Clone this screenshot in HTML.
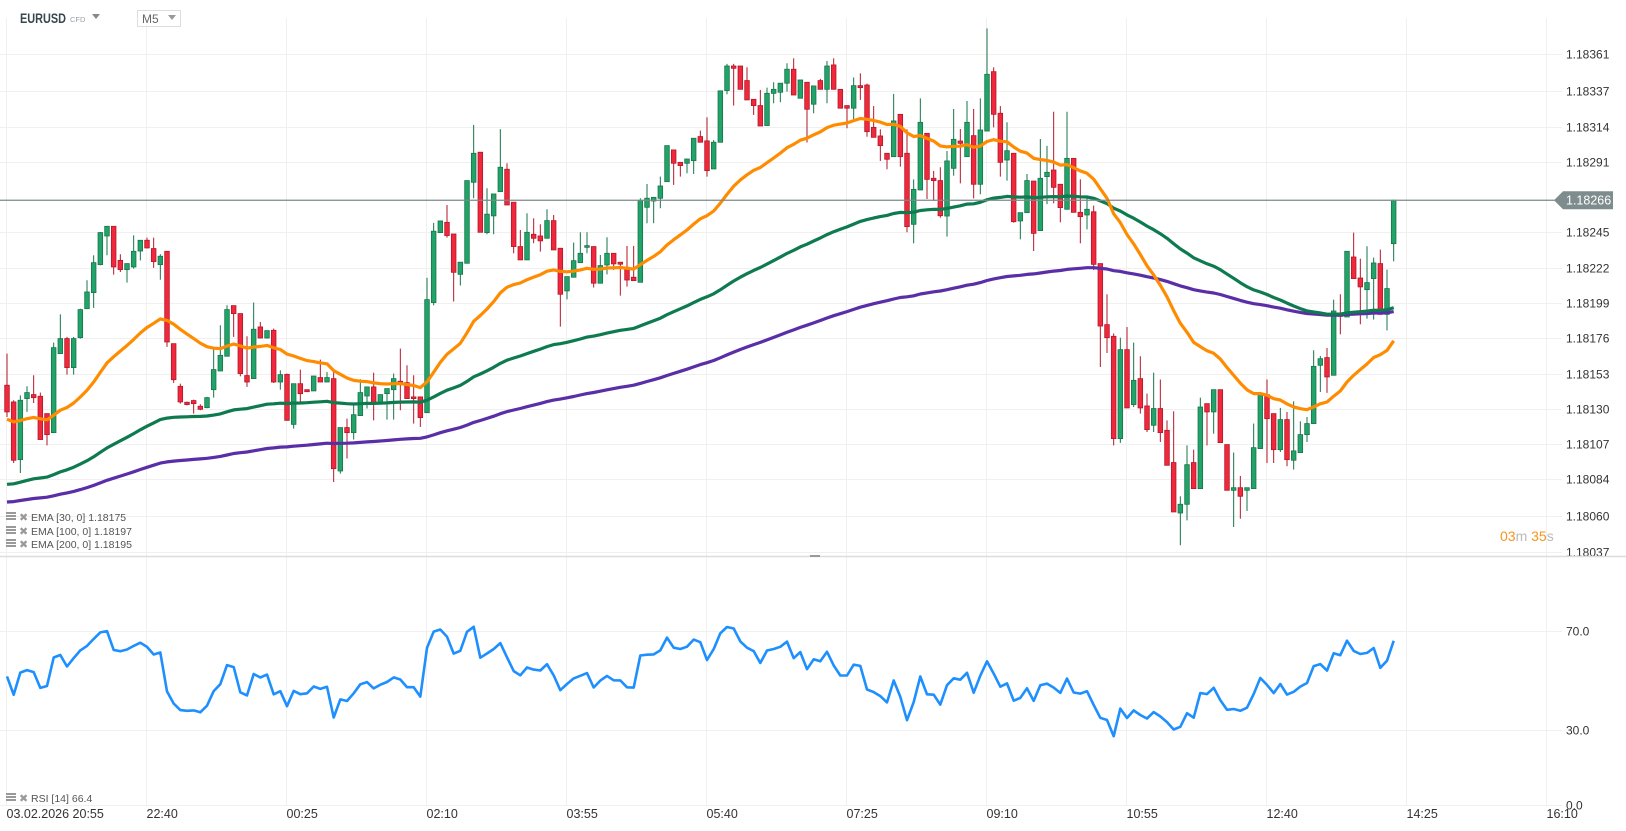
<!DOCTYPE html>
<html><head><meta charset="utf-8"><style>
html,body{margin:0;padding:0;background:#fff;width:1626px;height:831px;overflow:hidden}
svg{display:block;font-family:"Liberation Sans",sans-serif}
</style></head><body>
<svg id="chart" width="1626" height="831" viewBox="0 0 1626 831">
<g id="grid"></g>
<g id="candles"></g>
<g id="emas"></g>
<g id="rsi"></g>
<g id="axes"></g>
<g>
<text x="20" y="23" font-size="13.5" font-weight="bold" fill="#37474f" textLength="46" lengthAdjust="spacingAndGlyphs">EURUSD</text>
<text x="70" y="22" font-size="7.5" fill="#9aa0a6">CFD</text>
<path d="M92 14 L100 14 L96 19 Z" fill="#888"/>
<rect x="137.5" y="10.5" width="43" height="16" fill="#fff" stroke="#ddd"/>
<text x="142" y="23" font-size="12" fill="#666">M5</text>
<path d="M168 15 L176 15 L172 20 Z" fill="#999"/>
</g>
<g font-size="10.5" fill="#555">
<g><rect x="6" y="512" width="10" height="2" fill="#999"/><rect x="6" y="515" width="10" height="2" fill="#999"/><rect x="6" y="518" width="10" height="2" fill="#999"/><text x="19" y="521" fill="#999" font-size="11">✖</text><text x="31" y="521">EMA  [30,  0]  1.18175</text></g>
<g><rect x="6" y="526" width="10" height="2" fill="#999"/><rect x="6" y="529" width="10" height="2" fill="#999"/><rect x="6" y="532" width="10" height="2" fill="#999"/><text x="19" y="535" fill="#999" font-size="11">✖</text><text x="31" y="535">EMA  [100,  0]  1.18197</text></g>
<g><rect x="6" y="539" width="10" height="2" fill="#999"/><rect x="6" y="542" width="10" height="2" fill="#999"/><rect x="6" y="545" width="10" height="2" fill="#999"/><text x="19" y="548" fill="#999" font-size="11">✖</text><text x="31" y="548">EMA  [200,  0]  1.18195</text></g>
</g>
<g font-size="10.5" fill="#555">
<rect x="6" y="793" width="10" height="2" fill="#999"/><rect x="6" y="796" width="10" height="2" fill="#999"/><rect x="6" y="799" width="10" height="2" fill="#999"/><text x="19" y="802" fill="#999" font-size="11">✖</text><text x="31" y="802">RSI  [14]  66.4</text>
</g>
<g font-size="14"><text x="1500" y="541"><tspan fill="#f7931e">03</tspan><tspan fill="#bbb">m </tspan><tspan fill="#f7931e">35</tspan><tspan fill="#bbb">s</tspan></text></g>
</svg>
<script>
const BASE = 1.18; // values below are points above 1.18000 (1 pt = 0.00001)
const opens = [145.4,134.5,96.9,136.7,139.3,138.2,126.9,114.5,166,175.8,156.9,176.4,195.3,205.8,224,242.7,249,226.8,220.8,222.5,232.9,239.9,234.5,224,232.7,172.5,144.7,134.3,135.4,131.7,130.8,142.5,154.7,164.3,197.3,192.1,151.7,149.7,183.4,176.2,181.2,147.5,152.5,119.9,146.4,142.5,141.7,150.4,147.5,149.7,89.5,117.8,114.5,125.6,138.4,144.3,134.1,139.9,142.5,148,147.1,137.8,137.8,127.5,199.3,244.9,251.6,244,217.7,224.9,277.7,297.3,244.9,255.8,271.6,286.2,264.7,235.8,227.1,243.8,242.7,241.2,252.7,234.7,206.9,215.8,225.3,235.3,235.8,211.9,223.8,231.4,225.6,222.3,215.8,212.5,261.4,265.5,267.3,278.1,298.8,290.7,290.1,291.8,307.5,304.7,286.4,303.8,337.5,353.5,353.5,344,331.8,327.7,314.7,335.7,336.4,342.3,351.4,332.5,342.9,328.6,344,338.3,354.2,338.3,327.7,326,340.7,341.1,313.5,307.9,296.6,294.4,322,296.6,250.3,272.7,309.6,280.3,278.8,255.7,286.8,304.6,294.4,308.1,276.4,311.1,349.8,322.7,292.2,296.6,252.5,257.9,278.5,246.2,281.4,285.7,276.4,260.1,293.3,258.1,256.4,258.5,224.7,184.9,177.3,110.6,168.6,132.8,149.7,131.9,119.3,130.2,116,95,62.1,67.8,95,78,133.4,128,142.5,106.7,76.9,78.6,76.9,78,104.1,139.3,126.9,103.4,123,96.5,101.5,113.2,120.4,158.4,163.4,151.9,192.5,189.9,229,215.3,207.7,214.9,224.7,191.6,237.7];
const closes = [128,96.5,135.6,140.6,137.3,110,113.2,169.9,175.8,156.9,175.8,194.7,206.2,225.3,244.9,249,222.5,220.8,224.7,232.7,239.9,234.9,226,229.5,173.6,149,134.5,132.8,133.4,129.7,137.3,155.6,164.9,194.7,192.1,153,147.5,181.9,176.2,181,147.5,152.3,122.5,146.4,139.9,141.2,151.4,147.5,150.4,91,117.8,114.5,126.2,140.6,144.3,133.8,139.3,143.2,149.7,146.9,136.7,136.7,124.3,201.2,245.8,252.5,243,219,225.6,278.8,296.6,245.1,256.9,270.1,287.5,262.9,235.8,227.1,245.1,241.2,239.5,252.7,233.6,204.7,216.2,226.6,231.4,236.4,211.9,223.4,231.4,224.5,224.3,214,213.6,265.8,267.3,267.9,275.3,301.6,290.1,288.6,292.9,306.4,303.8,285.3,303.8,337.3,353.5,352,338.3,331.4,327.7,314.4,335.7,338.3,342.3,351.4,334.6,344.4,325.3,340.5,338.3,353.5,338.3,326,326,340.7,339.4,310.7,307,301.6,292.7,317.7,294.4,248.8,273.1,316.8,279.6,278.8,255.9,291.6,305.7,303.1,316.8,276.4,311.8,348.1,322,290.7,298.3,252,257.9,278.8,244.4,280.3,284.2,274.4,261.2,293.3,258.1,255.3,260.1,224.2,184,176.4,110.6,168.6,130.6,148.6,130.6,116.5,130.2,114.5,93.2,62.8,67.8,93.6,78,131.2,128,142.5,108,76.9,78.6,73,78.6,104.7,139.9,123.6,103.4,123,96.9,102.6,113.2,120.4,157.7,162.7,150.8,193.8,190.3,232.7,214.9,209.5,212.3,225.1,191.6,208.4,266];
const highs = [166,135.6,138.8,144.7,151.9,140.6,126.9,173.2,191.6,176.9,176.9,195.3,213.8,230.1,245.3,249,249,230.8,224.7,243.1,239.9,241.6,241.6,230.8,232.7,172.5,146.4,134.7,136,133,137.8,170.4,184.5,197.5,197.3,192.1,177.3,199.3,186.6,181,182.3,155.1,153,146.4,155.6,142.5,151.4,162.1,154,154,117.8,123.6,133,149.3,144.3,153.6,139.3,143.2,153,169.3,158.4,151.9,137.8,215.5,251.2,252.5,262.9,244,225.6,278.8,315.1,297.3,273.8,270.1,312.3,290.1,264.7,246.6,257.5,254.2,250.3,260.1,256.4,234.7,216.2,238.4,245.1,245.1,235.8,230.3,241.9,231.4,225.6,236.2,236.2,267.3,276.6,267.9,281.4,301.6,298.8,290.7,292.9,306.4,311.4,320.1,305.3,337.3,354.9,354.9,353.5,352.7,331.8,337.9,339.4,342.9,342.3,355.3,358.5,344.4,342.9,340.5,345.1,356.8,358.5,338.3,327.7,346,348.7,342,327.4,312.2,296.6,335.3,322,312.2,279.6,332.4,309.6,285.1,287.5,298.1,325.5,312.4,330.7,325.5,332.4,378,352.6,327.4,316.8,296.6,257.9,283.1,278.5,305.9,301.4,323.7,276.4,323.7,293.3,279.6,267.7,262.5,224.7,204.7,179.2,176.4,183.4,173.2,164.3,139.9,153.6,149.1,122.5,128.4,73,106.2,103.4,137.3,133.4,142.5,142.5,106.7,101.5,86.3,78.6,120.4,139.9,149.1,126.9,130.6,128,134.9,121.9,124.7,168.2,164.5,169.7,201.2,204.7,232.7,244.9,227.9,236,228.6,233.8,220.8,266];
const lows = [124.7,94.7,88.2,128,133.8,110,106.2,114.5,166,152.3,152.3,175.8,195.3,195.8,223.6,230.1,217.5,219.2,212.3,221.4,226.8,234.5,221.9,214.2,170.4,146.9,133.4,132.3,126.9,129.1,130.4,137.3,154.7,164.3,176.9,151.2,144.3,149.7,175.8,175.8,146.9,142.5,122.5,117.1,134.5,141.2,141.7,147.5,147.5,82.3,87.8,97.6,110,125.6,130.2,122.5,134.1,123,123,129.1,136.7,120.4,118.2,127.5,197.5,244.9,241.6,200,210.4,224.9,267.3,245.1,243.8,243.8,271.6,262.9,231.4,227.1,227.1,238,232.5,241.2,233.6,183.6,201.4,215.8,225.3,231.4,209.1,211.9,217.7,220.6,203.8,209.7,213.6,212.5,251,251,260.8,278.1,276,281.4,283.6,283.1,303.8,281.4,286.4,303.8,335.1,327.7,338.3,331.4,321.6,314.4,314.7,329.2,329.9,336.8,334.6,332.5,303.6,322.7,338.3,329.2,338.3,326,312.9,318.8,331.4,307.4,307,291.6,286.2,294.4,287.9,245.1,237.9,272.7,266.8,265.5,254.6,242.3,282,277,294.4,267.2,269.9,311.1,313.5,281.4,278.8,251.4,240.5,257.9,232.9,246.2,263.5,264,251.6,260.1,258.1,237.9,247,220.5,157.3,166.4,106.2,107.8,130.6,131.2,126.9,114.9,114.9,108.4,93.2,62.8,41.1,57.3,78,78,106.2,113.8,108,76.9,53,58.4,63.4,78,104.1,94.7,94.7,101.9,92.6,90.4,101.3,108.4,120.4,141,140.4,151.9,178.6,189.9,214.9,185.1,188.8,188.2,191.6,181.2,226.2];
const emaPeriods = [30, 100, 200];
const emaSeeds = [123.2, 80.8, 69.3];
const rsiSeedGain = 7.5;
const rsiSeedLoss = 7.0;
const priceTicks = [1.18361,1.18337,1.18314,1.18291,1.18245,1.18222,1.18199,1.18176,1.18153,1.18130,1.18107,1.18084,1.18060,1.18037];
const timeTickIdx = [0,21,42,63,84,105,126,147,168,189,210,231];
const timeTickLabels = ["03.02.2026  20:55","22:40","00:25","02:10","03:55","05:40","07:25","09:10","10:55","12:40","14:25","16:10"];
const rsiTicks = [70,30,0];
const rsiTickLabels = ["70.0","30.0","0.0"];
const lastPrice = 1.18266;

const NS = "http://www.w3.org/2000/svg";
function el(tag, attrs, parent){const e=document.createElementNS(NS,tag);for(const k in attrs)e.setAttribute(k,attrs[k]);parent.appendChild(e);return e;}
const step = 140/21;
const xOf = i => 7 + i*step;
const yOfPts = p => 54.5 + (361 - p)*1.534;
const yOfPrice = v => yOfPts((v - BASE)*1e5);
const yRsi = v => 805 - v*2.486;

const grid = document.getElementById('grid');
const axes = document.getElementById('axes');
timeTickIdx.forEach((ti,k)=>{
  const x = Math.round(xOf(ti)) - 0.5;
  const ln = el('line',{x1:x,y1:18,x2:x,y2:806,stroke:'#f0f0f0','stroke-width':1},grid);
  
  
  const t = el('text',{x:x,y:818,'font-size':12.5,fill:'#333'},axes);
  t.textContent = timeTickLabels[k];
  
  
});
priceTicks.forEach(v=>{
  const y = Math.round(yOfPrice(v)) + 0.5;
  const ln = el('line',{x1:0,y1:y,x2:1562,y2:y,stroke:'#f0f0f0','stroke-width':1},grid);
  
  
  const t = el('text',{x:1566,y:y+4,'font-size':12,fill:'#333'},axes);
  t.textContent = v.toFixed(5);
  
  
});
rsiTicks.forEach((v,k)=>{
  const y = Math.round(yRsi(v)) + 0.5;
  const ln = el('line',{x1:0,y1:y,x2:1562,y2:y,stroke:'#f0f0f0','stroke-width':1},grid);
  
  
  const t = el('text',{x:1566,y:y+4,'font-size':12,fill:'#333'},axes);
  t.textContent = rsiTickLabels[k];
  
  
});
const dv = el('line',{x1:0,y1:556.5,x2:1626,y2:556.5,stroke:'#dcdcdc','stroke-width':1.5},axes);


const hd = el('rect',{x:810,y:555,width:10,height:2,fill:'#999'},axes);



const cg = document.getElementById('candles');
for(let i=0;i<closes.length;i++){
  const up = closes[i] >= opens[i];
  const x = xOf(i);
  const g = el('g',{},cg);
  
  
  const col = up ? '#22a36a' : '#f0283c';
  const bord = up ? '#17744a' : '#b3172a';
  el('line',{x1:x,y1:yOfPts(highs[i]),x2:x,y2:yOfPts(lows[i]),stroke:bord,'stroke-width':1},g);
  const yt = yOfPts(Math.max(opens[i],closes[i])), yb = yOfPts(Math.min(opens[i],closes[i]));
  el('rect',{x:x-2.3,y:yt,width:4.6,height:Math.max(1.5,yb-yt),fill:col,stroke:bord,'stroke-width':0.8},g);
}
const eg = document.getElementById('emas');
const emaColors = ['#ff8c00','#0e7a4f','#5a2ea6'];
const emaNames = ['ema-30-line','ema-100-line','ema-200-line'];
[2,1,0].forEach(k=>{
  const a = 2/(emaPeriods[k]+1);
  let e = emaSeeds[k], pts = [];
  for(let i=0;i<closes.length;i++){ if(i>0) e = e + a*(closes[i]-e); pts.push(xOf(i).toFixed(1)+','+yOfPts(e).toFixed(1)); }
  const pl = el('polyline',{points:pts.join(' '),fill:'none',stroke:emaColors[k],'stroke-width':3.2,'stroke-linejoin':'round'},eg);
  
  
});
const ly = yOfPrice(lastPrice);
const lp = el('line',{x1:0,y1:ly,x2:1556,y2:ly,stroke:'#7d8a8a','stroke-width':1.2},axes);


const tag = el('path',{d:`M1554 ${ly} L1563 ${ly-9} L1613 ${ly-9} L1613 ${ly+9} L1563 ${ly+9} Z`,fill:'#7f8c8d'},axes);


const tt = el('text',{x:1566,y:ly+4.5,'font-size':12.5,fill:'#fff'},axes);
tt.textContent = lastPrice.toFixed(5);



const rg = document.getElementById('rsi');
let ag = rsiSeedGain, al = rsiSeedLoss, rp = [];
for(let i=0;i<closes.length;i++){
  if(i>0){ const d = closes[i]-closes[i-1]; ag = (ag*13 + Math.max(d,0))/14; al = (al*13 + Math.max(-d,0))/14; }
  const r = 100 - 100/(1+ag/al);
  rp.push(xOf(i).toFixed(1)+','+yRsi(r).toFixed(1));
}
const rl = el('polyline',{points:rp.join(' '),fill:'none',stroke:'#1e8fff','stroke-width':2.6,'stroke-linejoin':'round'},rg);


</script>
</body></html>
